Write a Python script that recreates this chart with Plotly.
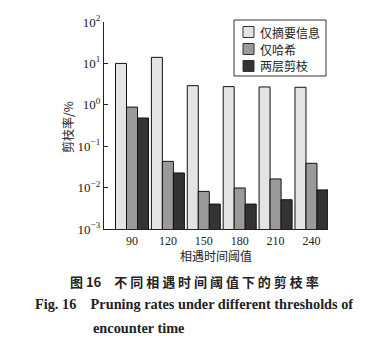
import plotly.graph_objects as go

categories = ["90", "120", "150", "180", "210", "240"]
series_names = ["仅摘要信息", "仅哈希", "两层剪枝"]
summary_only = [10.0, 14.0, 2.9, 2.75, 2.7, 2.65]
hash_only = [0.88, 0.043, 0.0081, 0.0098, 0.0162, 0.0387]
two_layer = [0.48, 0.0226, 0.0040, 0.0040, 0.0051, 0.0088]
ytick_vals = [1e-3, 1e-2, 1e-1, 1, 10, 100]
ytick_text = ["10<sup>−3</sup>", "10<sup>−2</sup>", "10<sup>−1</sup>", "10<sup>0</sup>", "10<sup>1</sup>", "10<sup>2</sup>"]

colors = ["#e4e4e4", "#9a9a9a", "#333333"]
W, H = 391, 346
L, R, T, B = 104, 328, 22, 229

fig = go.Figure()
for name, vals, c in zip(series_names, [summary_only, hash_only, two_layer], colors):
    fig.add_trace(go.Bar(x=list(range(len(categories))), y=vals, name=name, showlegend=False,
                         marker=dict(color=c, line=dict(color="#111111", width=1))))

def px(X):
    return (X - L) / (R - L)

def py(Y):
    return (B - Y) / (B - T)

serif = "Liberation Serif, Times New Roman, serif"
cjk = "Noto Sans CJK SC"

fig.update_layout(
    width=W, height=H,
    margin=dict(l=L, r=W - R, t=T, b=H - B),
    paper_bgcolor="white", plot_bgcolor="white",
    barmode="group", bargap=0.08, bargroupgap=0,
    xaxis=dict(range=[-0.78, 5.46], tickvals=list(range(len(categories))), ticktext=categories,
               showline=True, linecolor="#222222", linewidth=1.2, ticks="", showgrid=False,
               zeroline=False, tickfont=dict(family=serif, size=12, color="#222222")),
    yaxis=dict(type="log", range=[-3, 2], tickvals=ytick_vals, ticktext=ytick_text,
               showline=True, linecolor="#222222", linewidth=1.2, ticks="inside", ticklen=4,
               tickcolor="#222222", showgrid=False, zeroline=False,
               tickfont=dict(family=serif, size=13, color="#222222")),
    font=dict(family=serif, color="#222222"),
)

# manual legend (box, swatches, labels)
fig.add_shape(type="rect", xref="paper", yref="paper", x0=px(234), x1=px(326), y0=py(76), y1=py(20),
              line=dict(color="#333333", width=1), fillcolor="white", layer="above")
legend_y = [32, 49, 66]
for name, c, yy in zip(series_names, colors, legend_y):
    fig.add_shape(type="rect", xref="paper", yref="paper", x0=px(243), x1=px(254),
                  y0=py(yy + 5.5), y1=py(yy - 5.5), line=dict(color="#333333", width=1),
                  fillcolor=c, layer="above")
    fig.add_annotation(text=name, x=px(258), y=py(yy), xref="paper", yref="paper",
                       xanchor="left", yanchor="middle", showarrow=False,
                       font=dict(family=cjk, size=12, color="#222222"))

annotations = [
    dict(text="剪枝率/%", x=px(67), y=py(127), textangle=-90, font=dict(family=cjk, size=12)),
    dict(text="相遇时间阈值", x=px(216), y=py(256), font=dict(family=cjk, size=12)),
    dict(text="<b>图 16</b>　<b>不 同 相 遇 时 间 阈 值 下 的 剪 枝 率</b>", x=px(194), y=py(281),
         font=dict(family=cjk, size=13)),
    dict(text="<b>Fig. 16    Pruning rates under different thresholds of</b>", x=px(33), y=py(304),
         xanchor="left", font=dict(family=serif, size=14.3)),
    dict(text="<b>encounter time</b>", x=px(91), y=py(328), xanchor="left",
         font=dict(family=serif, size=14.3)),
]
for a in annotations:
    a.update(xref="paper", yref="paper", showarrow=False)
    a.setdefault("xanchor", "center")
    a["yanchor"] = "middle"
    a["font"]["color"] = "#222222"
    fig.add_annotation(**a)

fig.write_html("out.html")
